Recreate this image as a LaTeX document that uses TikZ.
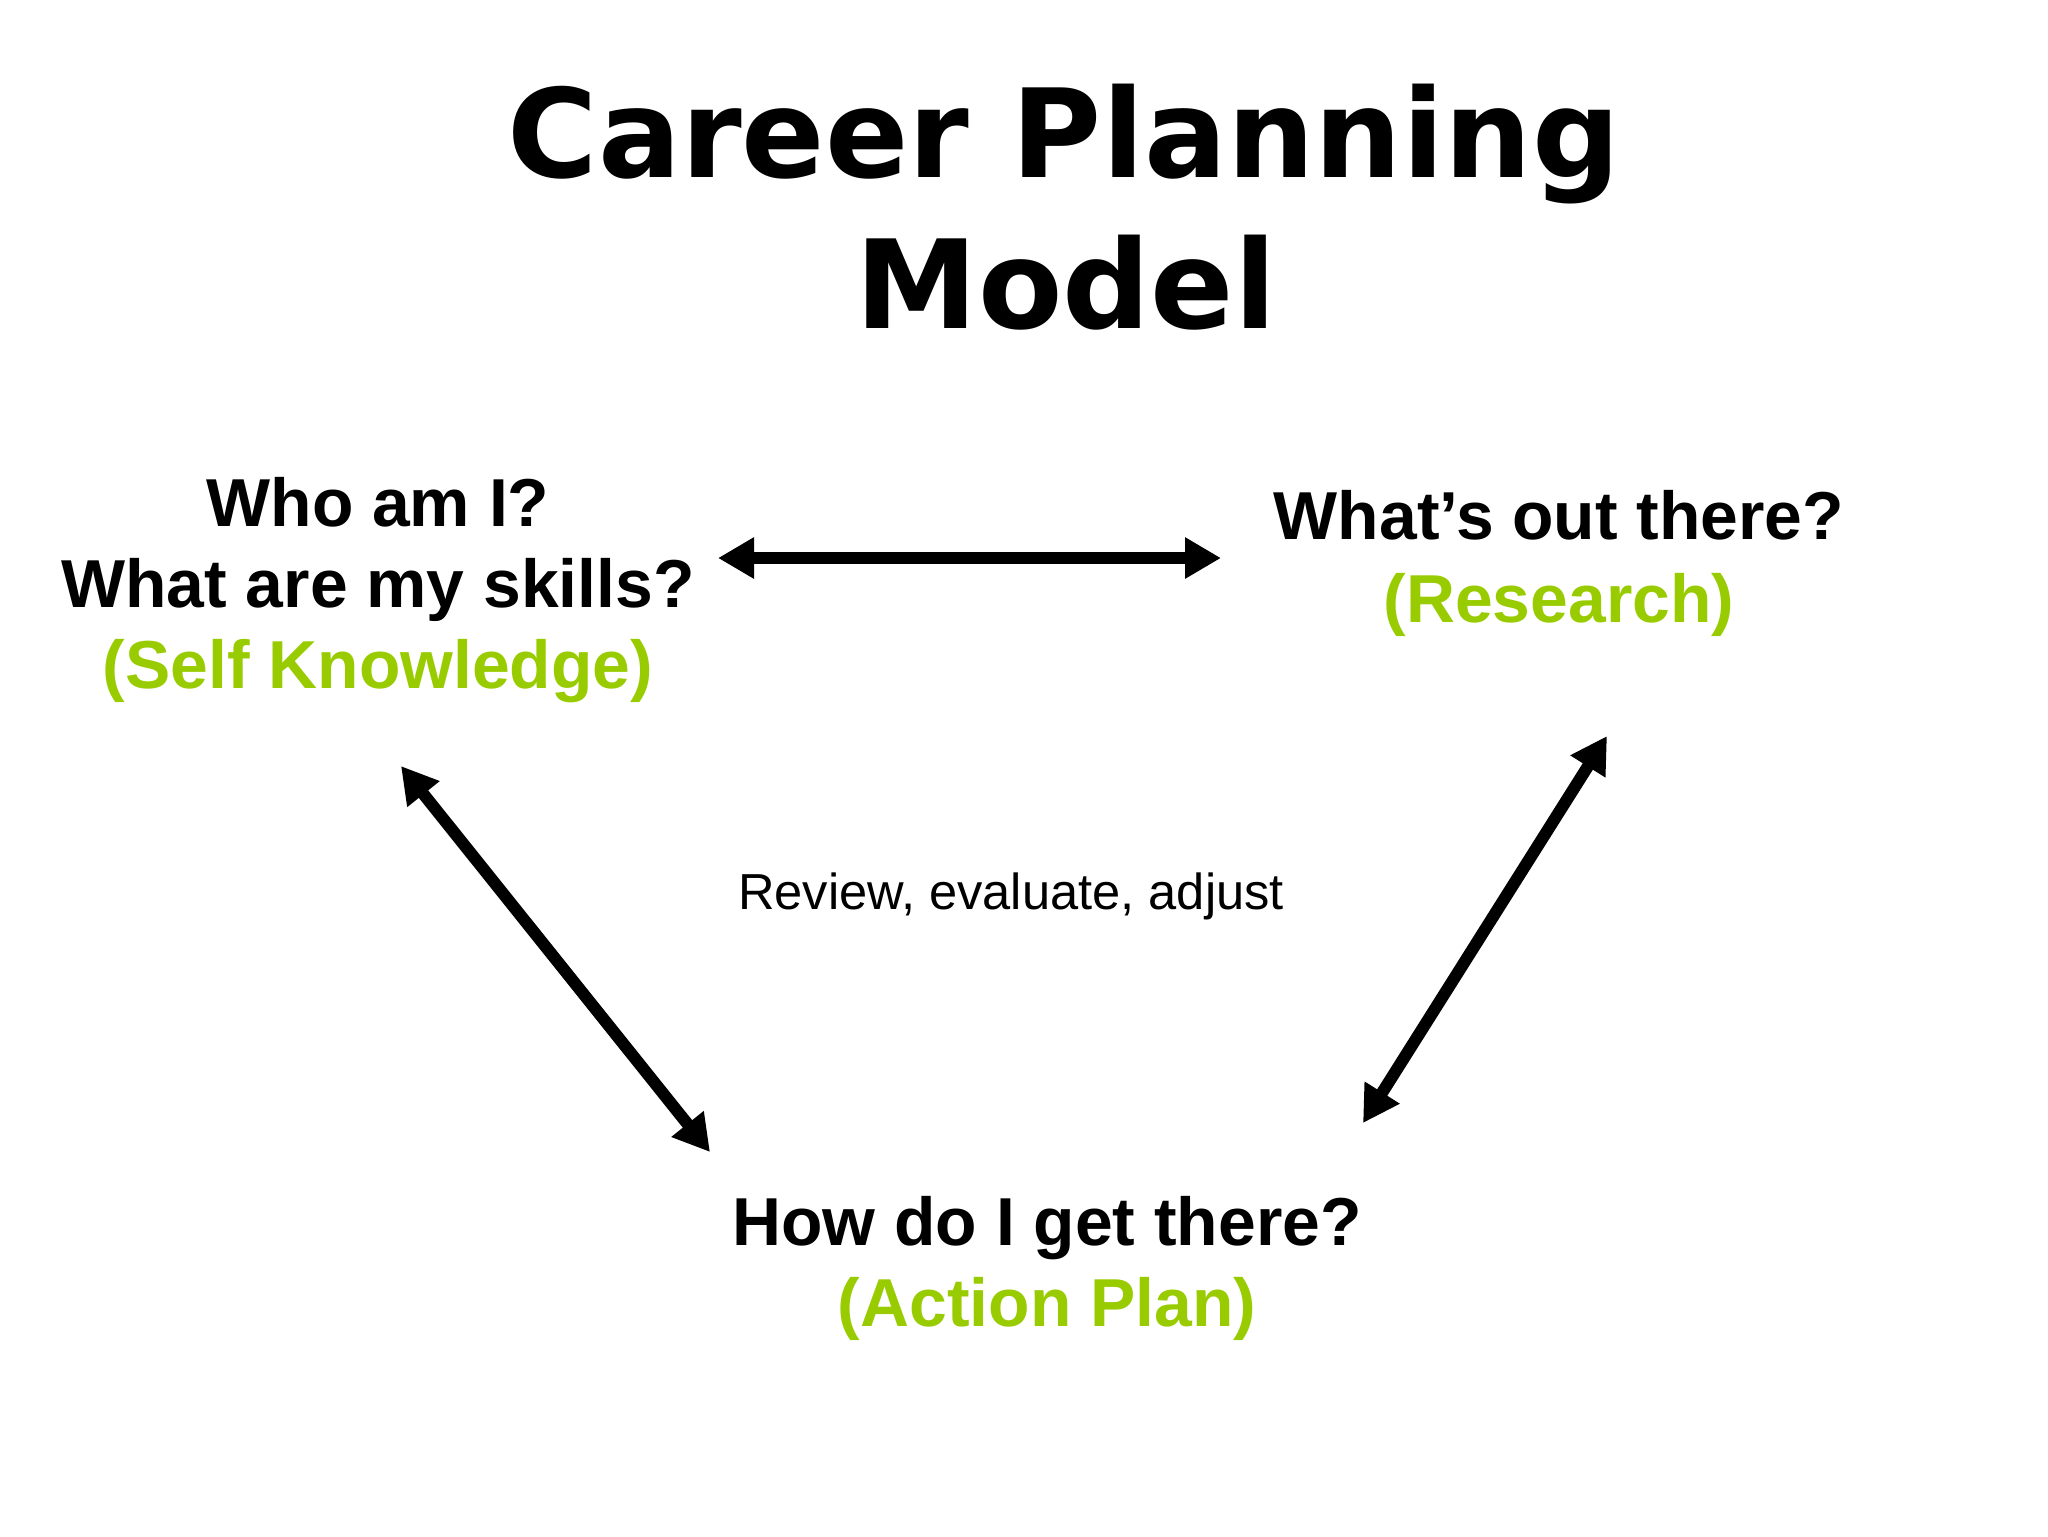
\documentclass[tikz,border=0pt]{standalone}
\usepackage{fontspec}
\setmainfont{Liberation Sans}
\newfontfamily\titlefont{DejaVu Sans}
\usetikzlibrary{arrows.meta}
\definecolor{ltgreen}{HTML}{99CC00}
\tikzset{
  titletext/.style={font=\titlefont\bfseries\fontsize{35}{42}\selectfont, anchor=base, inner sep=0pt},
  qtext/.style={font=\bfseries\fontsize{19.3}{23}\selectfont, anchor=base, inner sep=0pt},
  gtext/.style={qtext, text=ltgreen},
  smalltext/.style={font=\fontsize{14.4}{17}\selectfont, anchor=base, inner sep=0pt},
  dblarrow/.style={line width=1.2mm, {Triangle[length=3.6mm,width=3.9mm]}-{Triangle[length=3.6mm,width=3.9mm]}}
}
\begin{document}
\begin{tikzpicture}[x=0.1mm,y=-0.1mm]
\useasboundingbox[fill=white] (0,0) rectangle (2048,1536);
% title
\node[titletext] (t1) at (1064,177) {Career Planning};
\node[titletext] (t2) at (1066,328) {Model};
% left block
\node[qtext] (l1) at (378,526) {Who am I?};
\node[qtext] (l2) at (378,607) {What are my skills?};
\node[gtext] (l3) at (378,688) {(Self Knowledge)};
% right block
\node[qtext] (r1) at (1559,539) {What’s out there?};
\node[gtext] (r2) at (1559,622) {(Research)};
% bottom block
\node[qtext] (b1) at (1047,1245) {How do I get there?};
\node[gtext] (b2) at (1047,1326) {(Action Plan)};
% center
\node[smalltext] (rev) at (1011,909) {Review, evaluate, adjust};
% arrow ends
\coordinate (hL) at (718,558);
\coordinate (hR) at (1221,558);
\coordinate (dLt) at (401,766);
\coordinate (dLb) at (710,1152);
\coordinate (dRt) at (1607,736);
\coordinate (dRb) at (1363,1123);
\draw[dblarrow] (hL) -- (hR);
\draw[dblarrow] (dLt) -- (dLb);
\draw[dblarrow] (dRt) -- (dRb);
\end{tikzpicture}
\end{document}
